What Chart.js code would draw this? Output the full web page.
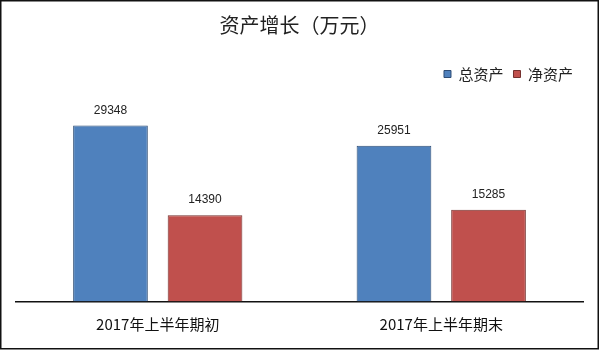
<!DOCTYPE html>
<html>
<head>
<meta charset="utf-8">
<script src="https://cdn.jsdelivr.net/npm/chart.js@4/dist/chart.umd.min.js"></script>
<style>
	html, body { margin: 0; padding: 0; background: #fff; }
	#wrap { width: 600px; height: 351px; }
</style>
</head>
<body>
<div id="wrap"><canvas id="assetChart" width="600" height="351"></canvas></div>
<script>
var categories = ['2017年上半年期初', '2017年上半年期末'];
var seriesNames = ['总资产', '净资产'];
var totalAssets = [29348, 25951];
var netAssets = [14390, 15285];

var cjkFont = "'Noto Sans CJK SC', sans-serif";
var numFont = "'Liberation Sans Narrow', 'Noto Sans CJK SC', sans-serif";

// value labels above each bar
var valueLabels = {
	id: 'valueLabels',
	afterDatasetsDraw: function(chart) {
		var ctx = chart.ctx;
		ctx.save();
		ctx.font = "12px 'Liberation Sans', sans-serif";
		ctx.fillStyle = '#222';
		ctx.textAlign = 'center';
		ctx.textBaseline = 'middle';
		chart.data.datasets.forEach(function(ds, i) {
			chart.getDatasetMeta(i).data.forEach(function(bar, j) {
				ctx.fillText(String(ds.data[j]), bar.x, bar.y - 15);
			});
		});
		ctx.restore();
	}
};

// thin frame round the picture
var frame = {
	id: 'frame',
	afterDraw: function(chart) {
		var ctx = chart.ctx;
		ctx.save();
		ctx.strokeStyle = '#111';
		ctx.lineWidth = 1.5;
		ctx.strokeRect(0.75, 0.75, 597.5, 348);
		ctx.restore();
	}
};

var ctx = document.getElementById('assetChart').getContext('2d');
var assetChart = new Chart(ctx, {
	type: 'bar',
	data: {
		labels: categories,
		datasets: [{
			label: seriesNames[0],
			data: totalAssets,
			backgroundColor: '#4F81BD',
			borderColor: '#2E4D75',
			borderWidth: 1
		}, {
			label: seriesNames[1],
			data: netAssets,
			backgroundColor: '#C0504D',
			borderColor: '#74302E',
			borderWidth: 1
		}]
	},
	options: {
		responsive: false,
		animation: false,
		events: [],
		layout: { padding: { left: 16, right: 17, top: 0, bottom: 0 } },
		datasets: {
			bar: { categoryPercentage: 0.667, barPercentage: 0.79 }
		},
		plugins: {
			title: {
				display: true,
				text: '资产增长（万元）',
				color: '#222',
				font: { family: cjkFont, size: 20, weight: 'normal' },
				padding: { top: 13.5, bottom: 19 }
			},
			legend: {
				position: 'top',
				align: 'end',
				labels: {
					boxWidth: 7,
					boxHeight: 7,
					padding: 10,
					color: '#222',
					font: { family: cjkFont, size: 15 }
				}
			},
			tooltip: { enabled: false }
		},
		scales: {
			x: {
				grid: { display: false, drawTicks: false },
				border: { display: true, color: '#111', width: 1.5 },
				ticks: {
					padding: 14,
					color: '#111',
					font: { family: numFont, size: 15 }
				},
				afterFit: function(scale) { scale.height = 49.5; }
			},
			y: {
				display: false,
				min: 0,
				max: 35000
			}
		}
	},
	plugins: [valueLabels, frame]
});
</script>
</body>
</html>
